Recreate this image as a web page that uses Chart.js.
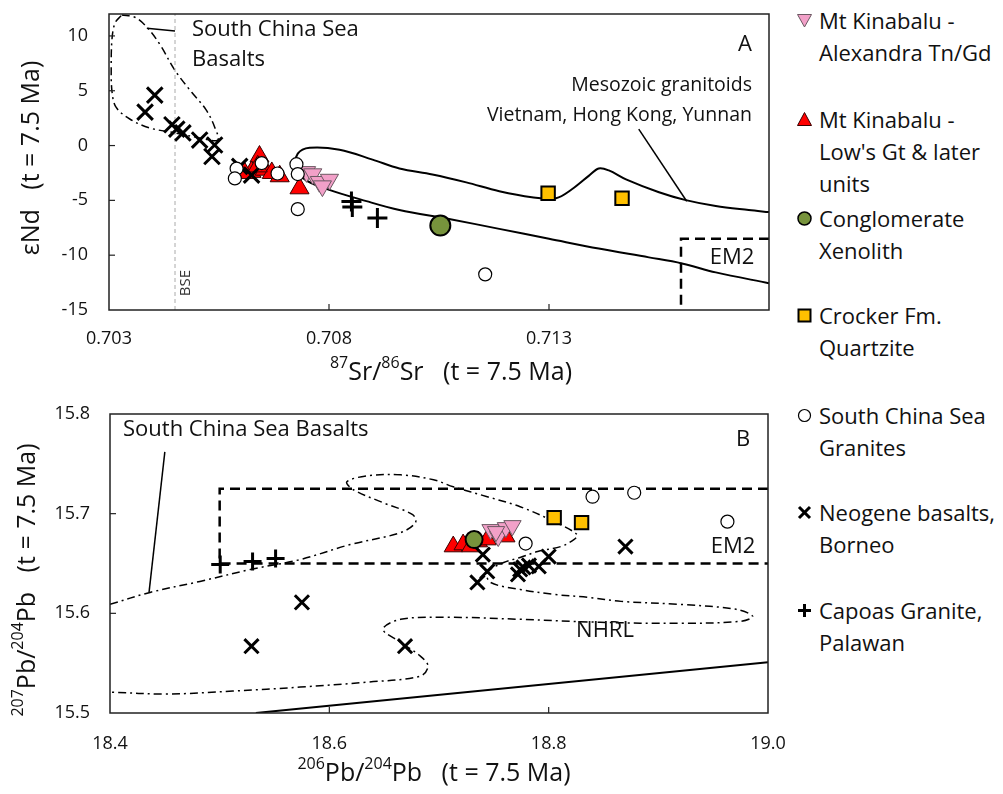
<!DOCTYPE html>
<html>
<head>
<meta charset="utf-8">
<script src="https://cdn.jsdelivr.net/npm/chart.js@4.4.0/dist/chart.umd.min.js"></script>
<style>
  body { margin: 0; background: #fff; }
  #wrap { position: relative; width: 1003px; height: 794px; overflow: hidden; font-family: 'Open Sans', sans-serif; }
  #chartA { position: absolute; left: 0; top: 0; }
  #chartB { position: absolute; left: 0; top: 400px; }
  .leg { position: absolute; left: 819px; font-size: 22px; line-height: 32px; color: #111; white-space: nowrap; }
  .mk { position: absolute; left: 796px; width: 17px; height: 17px; }
</style>
</head>
<body>
<div id="wrap">
  <canvas id="chartA" width="785" height="400"></canvas>
  <canvas id="chartB" width="785" height="394"></canvas>
  <div id="legend"></div>
</div>
<script>
// ---- Panel A: 87Sr/86Sr vs eNd (t = 7.5 Ma) ----
var srTicks = [0.703, 0.708, 0.713];
var ndTicks = [-15, -10, -5, 0, 5, 10];

var alexandraSr = [0.70749, 0.70763, 0.70778, 0.70801, 0.70785];
var alexandraNd = [-2.4, -2.6, -3.3, -3.1, -3.7];
var lowsSr = [0.70642, 0.70624, 0.70654, 0.7067, 0.70688, 0.70733, 0.70608, 0.70638];
var lowsNd = [-1.0, -2.4, -2.2, -2.5, -2.8, -3.9, -2.5, -1.9];
var conglomSr = [0.71053];
var conglomNd = [-7.3];
var crockerSr = [0.71298, 0.71466];
var crockerNd = [-4.35, -4.8];
var scsGraniteSr = [0.7059, 0.70586, 0.70647, 0.70683, 0.70726, 0.70729, 0.70729, 0.71155];
var scsGraniteNd = [-2.1, -3.0, -1.6, -2.55, -1.7, -2.6, -5.8, -11.75];
var neogeneSr = [0.70382, 0.70404, 0.70443, 0.70454, 0.70468, 0.70506, 0.7054, 0.70534, 0.70597, 0.70624];
var neogeneNd = [3.05, 4.6, 1.9, 1.5, 1.15, 0.5, 0.05, -1.0, -1.9, -2.7];
var capoasSr = [0.70851, 0.70853, 0.7091];
var capoasNd = [-5.1, -5.6, -6.6];

// outlines
var scsBasaltFieldSr = [0.70329, 0.70359, 0.70386, 0.70416, 0.7045, 0.70488, 0.7052, 0.7054, 0.70547,
                        0.70506, 0.7045, 0.70393, 0.70348, 0.70316, 0.70307, 0.70305, 0.70307, 0.70314, 0.70329];
var scsBasaltFieldNd = [11.9, 11.7, 10.8, 9.2, 6.85, 4.86, 3.3, 1.7, 0.5,
                        0.7, 1.16, 1.6, 2.4, 3.5, 4.86, 7.1, 9.8, 11.2, 11.9];
var scsBasaltLeaderSr = [0.70386, 0.7045];
var scsBasaltLeaderNd = [10.7, 10.45];
var mesozoicFieldSr = [0.718, 0.71754, 0.71679, 0.71611, 0.7155, 0.71475, 0.71436, 0.71413, 0.71391, 0.71352,
                       0.71316, 0.71261, 0.71187, 0.71112, 0.71035, 0.7096, 0.70899, 0.70824, 0.70756, 0.70729,
                       0.70726, 0.70744, 0.70794, 0.70885, 0.7096, 0.71073, 0.71187, 0.713, 0.71413, 0.71527,
                       0.71602, 0.71679, 0.718];
var mesozoicFieldNd = [-6.07, -5.88, -5.52, -4.98, -4.26, -3.08, -2.27, -2.09, -2.74, -3.99,
                       -4.8, -4.71, -4.17, -3.36, -2.64, -2.09, -1.28, -0.38, -0.2, -0.74,
                       -1.91, -3.06, -3.95, -5.07, -5.88, -6.7, -7.6, -8.5, -9.4, -10.2,
                       -10.75, -11.57, -12.56];
var mesozoicLeaderSr = [0.71504, 0.71613];
var mesozoicLeaderNd = [1.5, -5.08];
var em2BoxSr = [0.718, 0.716, 0.716];
var em2BoxNd = [-8.5, -8.5, -15];
var bseSr = [0.7045, 0.7045];
var bseNd = [-15, 12];

// ---- Panel B: 206Pb/204Pb vs 207Pb/204Pb (t = 7.5 Ma) ----
var pb206Ticks = [18.4, 18.6, 18.8, 19.0];
var pb207Ticks = [15.5, 15.6, 15.7, 15.8];

var alexandraPb206 = [18.747, 18.754, 18.761, 18.767, 18.752];
var alexandraPb207 = [15.684, 15.677, 15.686, 15.688, 15.682];
var lowsPb206 = [18.713, 18.722, 18.729, 18.736, 18.744, 18.761];
var lowsPb207 = [15.667, 15.669, 15.667, 15.672, 15.674, 15.677];
var conglomPb206 = [18.732];
var conglomPb207 = [15.674];
var crockerPb206 = [18.805, 18.83];
var crockerPb207 = [15.696, 15.691];
var scsGranitePb206 = [18.779, 18.84, 18.878, 18.963];
var scsGranitePb207 = [15.67, 15.717, 15.721, 15.692];
var neogenePb206 = [18.529, 18.575, 18.669, 18.735, 18.744, 18.74, 18.774, 18.772, 18.777, 18.782, 18.791, 18.8, 18.87];
var neogenePb207 = [15.567, 15.611, 15.567, 15.631, 15.642, 15.659, 15.644, 15.639, 15.646, 15.648, 15.647, 15.657, 15.667];
var capoasPb206 = [18.5005, 18.53, 18.551];
var capoasPb207 = [15.649, 15.652, 15.655];

var scsBasaltFieldPb206 = [18.4, 18.4365, 18.482, 18.528, 18.5735, 18.619, 18.665, 18.6785, 18.676, 18.649,
                           18.622, 18.616, 18.635, 18.665, 18.695, 18.713, 18.744, 18.774, 18.805, 18.826,
                           18.823, 18.811, 18.79, 18.774, 18.759, 18.744, 18.747, 18.774, 18.805, 18.836,
                           18.866, 18.92, 18.971, 18.986, 18.975, 18.92, 18.847, 18.774, 18.71, 18.665,
                           18.649, 18.665, 18.683, 18.69, 18.683, 18.635, 18.5735, 18.512, 18.452, 18.4];
var scsBasaltFieldPb207 = [15.609, 15.621, 15.632, 15.644, 15.654, 15.669, 15.681, 15.691, 15.699, 15.711,
                           15.724, 15.732, 15.738, 15.739, 15.734, 15.727, 15.717, 15.707, 15.692, 15.679,
                           15.674, 15.667, 15.662, 15.656, 15.651, 15.641, 15.631, 15.624, 15.619, 15.616,
                           15.612, 15.609, 15.604, 15.597, 15.592, 15.59, 15.591, 15.594, 15.596, 15.594,
                           15.584, 15.571, 15.557, 15.547, 15.537, 15.531, 15.526, 15.522, 15.519, 15.521];
var scsBasaltLeaderPb206 = [18.45, 18.4356];
var scsBasaltLeaderPb207 = [15.762, 15.621];
var em2BoxPb206 = [19.0, 18.5, 18.5, 19.0];
var em2BoxPb207 = [15.725, 15.725, 15.65, 15.65];
var nhrlPb206 = [18.533, 19.0];
var nhrlPb207 = [15.5, 15.551];

var legendLabels = [
  ['Mt Kinabalu -', 'Alexandra Tn/Gd'],
  ['Mt Kinabalu -', "Low's Gt & later", 'units'],
  ['Conglomerate', 'Xenolith'],
  ['Crocker Fm.', 'Quartzite'],
  ['South China Sea', 'Granites'],
  ['Neogene basalts,', 'Borneo'],
  ['Capoas Granite,', 'Palawan']
];

(function() {
  'use strict';

  var FONT = "'Open Sans', 'DejaVu Sans', sans-serif";

  var STYLES = {
    alexandra: { style: 'triangle', rot: 180, bg: '#F2A0C8', border: '#6b5862', bw: 1 },
    lows:      { style: 'triangle', rot: 0, bg: '#FF0000', border: '#3a0000', bw: 1 },
    conglom:   { style: 'circle', rot: 0, bg: '#77933C', border: '#000', bw: 2 },
    crocker:   { style: 'rect', rot: 0, bg: '#FFC000', border: '#000', bw: 2 },
    scsGranite:{ style: 'circle', rot: 0, bg: '#FFFFFF', border: '#000', bw: 1.2 },
    neogene:   { style: 'crossRot', rot: 0, bg: '#000', border: '#000', bw: 3 },
    capoas:    { style: 'cross', rot: 0, bg: '#000', border: '#000', bw: 3 }
  };

  function pts(xs, ys) {
    return xs.map(function(x, i) { return { x: x, y: ys[i] }; });
  }

  function pointSet(xs, ys, st, radius, order) {
    return {
      data: pts(xs, ys),
      showLine: false,
      pointStyle: st.style,
      pointRotation: st.rot,
      pointRadius: radius,
      pointBackgroundColor: st.bg,
      pointBorderColor: st.border,
      pointBorderWidth: st.bw,
      order: order
    };
  }

  function lineSet(xs, ys, opt) {
    return {
      data: pts(xs, ys),
      showLine: true,
      pointRadius: 0,
      fill: false,
      borderColor: opt.color || '#000',
      borderWidth: opt.width || 1.5,
      borderDash: opt.dash || [],
      tension: opt.tension || 0,
      order: 10
    };
  }

  function drawRich(ctx, parts, cx, cy, angle, size) {
    var main = size + 'px ' + FONT, sup = Math.round(size * 0.62) + 'px ' + FONT;
    ctx.save();
    ctx.translate(cx, cy);
    ctx.rotate(angle);
    var total = 0;
    parts.forEach(function(p) {
      ctx.font = p.sup ? sup : main;
      p.w = ctx.measureText(p.t).width;
      total += p.w;
    });
    var x = -total / 2;
    ctx.textAlign = 'left';
    ctx.textBaseline = 'middle';
    ctx.fillStyle = '#111';
    parts.forEach(function(p) {
      ctx.font = p.sup ? sup : main;
      ctx.fillText(p.t, x, p.sup ? -size * 0.38 : 0);
      x += p.w;
    });
    ctx.restore();
  }

  // frame, inward ticks, annotations and axis titles
  function framePlugin(cfg) {
    return {
      id: 'frame',
      afterDraw: function(chart) {
        var ctx = chart.ctx, a = chart.chartArea;
        var xs = chart.scales.x, ys = chart.scales.y;
        ctx.save();
        ctx.strokeStyle = '#222';
        ctx.lineWidth = 1.5;
        ctx.strokeRect(a.left, a.top, a.right - a.left, a.bottom - a.top);
        ctx.lineWidth = 1.2;
        xs.ticks.forEach(function(t) {
          var px = xs.getPixelForValue(t.value);
          if (px > a.left + 3 && px < a.right - 3) {
            ctx.beginPath(); ctx.moveTo(px, a.bottom); ctx.lineTo(px, a.bottom - 6); ctx.stroke();
          }
        });
        ys.ticks.forEach(function(t) {
          var py = ys.getPixelForValue(t.value);
          if (py > a.top + 3 && py < a.bottom - 3) {
            ctx.beginPath(); ctx.moveTo(a.left, py); ctx.lineTo(a.left + 6, py); ctx.stroke();
          }
        });

        ctx.fillStyle = '#111';
        ctx.textBaseline = 'middle';
        cfg.texts.forEach(function(t) {
          ctx.save();
          ctx.font = (t.size || 22) + 'px ' + FONT;
          ctx.fillStyle = t.color || '#111';
          ctx.translate(t.x, t.y);
          if (t.rotate) ctx.rotate(t.rotate);
          ctx.textAlign = t.align || 'center';
          ctx.fillText(t.t, 0, 0);
          ctx.restore();
        });
        ctx.restore();

        drawRich(ctx, cfg.xTitle, cfg.xTitleAt[0], cfg.xTitleAt[1], 0, cfg.titleSize);
        drawRich(ctx, cfg.yTitle, cfg.yTitleAt[0], cfg.yTitleAt[1], -Math.PI / 2, cfg.titleSize);
      }
    };
  }

  function axis(ticks, min, max, fmt, size, padding) {
    return {
      type: 'linear',
      min: min,
      max: max,
      afterBuildTicks: function(scale) {
        scale.ticks = ticks.map(function(v) { return { value: v }; });
      },
      afterFit: function(scale) {
        if (scale.isHorizontal()) scale.height = size; else scale.width = size;
        // keep the plot box where the figure has it: no room for overhanging labels
        scale.paddingTop = scale.paddingBottom = scale.paddingLeft = scale.paddingRight = 0;
      },
      ticks: {
        callback: fmt,
        autoSkip: false,
        maxRotation: 0,
        padding: padding,
        color: '#111',
        font: { family: FONT, size: 18 }
      },
      grid: { display: false, drawTicks: false },
      border: { display: false }
    };
  }

  function baseOptions(padTop, padRight, xAxis, yAxis) {
    return {
      responsive: false,
      animation: false,
      events: [],
      layout: { padding: { top: padTop, right: padRight, left: 0, bottom: 0 } },
      plugins: { legend: { display: false }, tooltip: { enabled: false } },
      scales: { x: xAxis, y: yAxis }
    };
  }

  // ---- Panel A ----
  new Chart(document.getElementById('chartA'), {
    type: 'scatter',
    data: {
      datasets: [
        lineSet(bseSr, bseNd, { color: '#aaa', width: 1, dash: [4, 3] }),
        lineSet(scsBasaltFieldSr, scsBasaltFieldNd, { width: 1.5, dash: [8, 4, 2, 4], tension: 0.35 }),
        lineSet(scsBasaltLeaderSr, scsBasaltLeaderNd, { width: 1.5 }),
        lineSet(mesozoicFieldSr, mesozoicFieldNd, { width: 2, tension: 0.35 }),
        lineSet(mesozoicLeaderSr, mesozoicLeaderNd, { width: 1.5 }),
        lineSet(em2BoxSr, em2BoxNd, { width: 2.5, dash: [10, 6] }),
        pointSet(lowsSr, lowsNd, STYLES.lows, 11, 5),
        pointSet(neogeneSr, neogeneNd, STYLES.neogene, 11, 4),
        pointSet(alexandraSr, alexandraNd, STYLES.alexandra, 10.5, 3),
        pointSet(capoasSr, capoasNd, STYLES.capoas, 10, 2),
        pointSet(scsGraniteSr, scsGraniteNd, STYLES.scsGranite, 6.5, 1),
        pointSet(conglomSr, conglomNd, STYLES.conglom, 10, 1),
        pointSet(crockerSr, crockerNd, STYLES.crocker, 9.5, 1)
      ]
    },
    options: baseOptions(11, 16,
      axis(srTicks, 0.703, 0.718, function(v) { return v.toFixed(3); }, 90, 18),
      axis(ndTicks, -15, 12, function(v) { return String(v); }, 109, 21)),
    plugins: [framePlugin({
      texts: [
        { t: 'South China Sea', x: 192, y: 30, align: 'left' },
        { t: 'Basalts', x: 192, y: 60, align: 'left' },
        { t: 'A', x: 745, y: 45 },
        { t: 'Mesozoic granitoids', x: 752, y: 85, align: 'right', size: 19.5 },
        { t: 'Vietnam, Hong Kong, Yunnan', x: 752, y: 115, align: 'right', size: 19.5 },
        { t: 'EM2', x: 732, y: 258 },
        { t: 'BSE', x: 186, y: 283, rotate: -Math.PI / 2, size: 15, color: '#333' }
      ],
      titleSize: 25,
      xTitle: [{ t: '87', sup: true }, { t: 'Sr/' }, { t: '86', sup: true }, { t: 'Sr   (t = 7.5 Ma)' }],
      xTitleAt: [451, 373],
      yTitle: [{ t: '\u03b5Nd   (t = 7.5 Ma)' }],
      yTitleAt: [32, 158]
    })]
  });

  // ---- Panel B ----
  new Chart(document.getElementById('chartB'), {
    type: 'scatter',
    data: {
      datasets: [
        lineSet(scsBasaltFieldPb206, scsBasaltFieldPb207, { width: 1.5, dash: [8, 4, 2, 4], tension: 0.35 }),
        lineSet(scsBasaltLeaderPb206, scsBasaltLeaderPb207, { width: 1.5 }),
        lineSet(em2BoxPb206, em2BoxPb207, { width: 2.5, dash: [10, 6] }),
        lineSet(nhrlPb206, nhrlPb207, { width: 2 }),
        pointSet(lowsPb206, lowsPb207, STYLES.lows, 10.5, 5),
        pointSet(neogenePb206, neogenePb207, STYLES.neogene, 10, 4),
        pointSet(alexandraPb206, alexandraPb207, STYLES.alexandra, 10, 3),
        pointSet(capoasPb206, capoasPb207, STYLES.capoas, 9, 2),
        pointSet(scsGranitePb206, scsGranitePb207, STYLES.scsGranite, 6.5, 1),
        pointSet(conglomPb206, conglomPb207, STYLES.conglom, 8.5, 1),
        pointSet(crockerPb206, crockerPb207, STYLES.crocker, 9.5, 1)
      ]
    },
    options: baseOptions(14, 17,
      axis(pb206Ticks, 18.4, 19.0, function(v) { return v.toFixed(1); }, 81, 20),
      axis(pb207Ticks, 15.5, 15.8, function(v) { return v.toFixed(1); }, 110, 20)),
    plugins: [framePlugin({
      texts: [
        { t: 'South China Sea Basalts', x: 123, y: 30, align: 'left' },
        { t: 'B', x: 743, y: 40 },
        { t: 'EM2', x: 733, y: 147 },
        { t: 'NHRL', x: 605, y: 231 }
      ],
      titleSize: 25,
      xTitle: [{ t: '206', sup: true }, { t: 'Pb/' }, { t: '204', sup: true }, { t: 'Pb   (t = 7.5 Ma)' }],
      xTitleAt: [434, 374],
      yTitle: [{ t: '207', sup: true }, { t: 'Pb/' }, { t: '204', sup: true }, { t: 'Pb   (t = 7.5 Ma)' }],
      yTitleAt: [28, 180]
    })]
  });

  // ---- Legend ----
  var markers = [
    '<polygon points="1.5,2.5 15.5,2.5 8.5,15" fill="#F2A0C8" stroke="#6b5862" stroke-width="1"/>',
    '<polygon points="8.5,1.5 15.5,14.5 1.5,14.5" fill="#FF0000" stroke="#3a0000" stroke-width="1"/>',
    '<circle cx="8.5" cy="8.5" r="6.5" fill="#77933C" stroke="#000" stroke-width="1.5"/>',
    '<rect x="2.5" y="2.5" width="12" height="12" fill="#FFC000" stroke="#000" stroke-width="2"/>',
    '<circle cx="8.5" cy="8.5" r="6" fill="#fff" stroke="#000" stroke-width="1.2"/>',
    '<path d="M3,3 L14,14 M14,3 L3,14" stroke="#000" stroke-width="3"/>',
    '<path d="M8.5,2 L8.5,15 M2,8.5 L15,8.5" stroke="#000" stroke-width="3"/>'
  ];
  var firstLineY = [20, 119, 218, 315, 415, 512, 610];
  var html = '';
  legendLabels.forEach(function(lines, i) {
    html += '<svg class="mk" style="top:' + (firstLineY[i] - 8) + 'px" viewBox="0 0 17 17">' + markers[i] + '</svg>';
    html += '<div class="leg" style="top:' + (firstLineY[i] - 16) + 'px">' + lines.join('<br>') + '</div>';
  });
  document.getElementById('legend').innerHTML = html;
})();
</script>
</body>
</html>
